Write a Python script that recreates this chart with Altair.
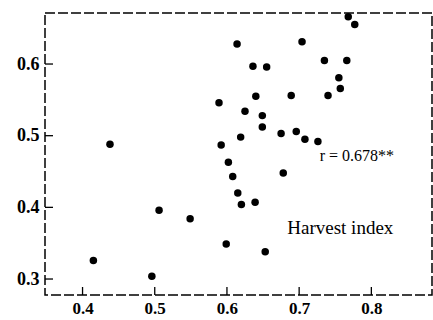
import altair as alt
import pandas as pd

# Data
x_vals = [0.415, 0.438, 0.496, 0.506, 0.549, 0.589, 0.592, 0.602, 0.608, 0.615,
          0.620, 0.639, 0.599, 0.653, 0.614, 0.636, 0.655, 0.640, 0.625, 0.649,
          0.649, 0.619, 0.675, 0.696, 0.708, 0.726, 0.678, 0.704, 0.689, 0.735,
          0.766, 0.755, 0.757, 0.740, 0.768, 0.777]
y_vals = [0.326, 0.488, 0.304, 0.396, 0.384, 0.546, 0.487, 0.463, 0.443, 0.420,
          0.404, 0.407, 0.349, 0.338, 0.628, 0.597, 0.596, 0.555, 0.534, 0.528,
          0.512, 0.498, 0.503, 0.506, 0.495, 0.492, 0.448, 0.631, 0.556, 0.605,
          0.605, 0.581, 0.566, 0.556, 0.666, 0.655]
x_ticks = [0.4, 0.5, 0.6, 0.7, 0.8]
y_ticks = [0.3, 0.4, 0.5, 0.6]
r_label = ["r = 0.678**"]
r_pos = [(0.780, 0.465)]
name_label = ["Harvest index"]
name_pos = [(0.757, 0.363)]

df = pd.DataFrame({"x": x_vals, "y": y_vals})
xt = pd.DataFrame({"x": x_ticks})
yt = pd.DataFrame({"y": y_ticks})
rdf = pd.DataFrame({"x": [p[0] for p in r_pos], "y": [p[1] for p in r_pos], "t": r_label})
ndf = pd.DataFrame({"x": [p[0] for p in name_pos], "y": [p[1] for p in name_pos], "t": name_label})

W, H = 387, 282
FONT = "Liberation Serif"
xs = alt.Scale(domain=[0.348, 0.884], nice=False, zero=False)
ys = alt.Scale(domain=[0.2777, 0.6712], nice=False, zero=False)

common_axis = dict(title=None, domain=False, ticks=False, grid=False,
                   labelFont=FONT, labelFontWeight="bold",
                   labelColor="black", format=".1f")
x_axis = alt.Axis(values=x_ticks, labelPadding=5, labelFontSize=17, **common_axis)
y_axis = alt.Axis(values=y_ticks, labelPadding=6, labelFontSize=18, **common_axis)

X = alt.X("x:Q", scale=xs, axis=x_axis)
Y = alt.Y("y:Q", scale=ys, axis=y_axis)

pts = alt.Chart(df).mark_circle(size=56, color="black", opacity=1).encode(x=X, y=Y)

xtick = alt.Chart(xt).mark_rule(color="black", strokeWidth=1.3).encode(
    x=X, y=alt.value(H), y2=alt.value(H - 8),
)
ytick = alt.Chart(yt).mark_rule(color="black", strokeWidth=1.3).encode(
    y=Y, x=alt.value(0), x2=alt.value(8),
)

rtxt = alt.Chart(rdf).mark_text(font=FONT, fontSize=16, color="black",
                                align="center", baseline="alphabetic").encode(
    x=X, y=Y, text="t:N")
ntxt = alt.Chart(ndf).mark_text(font=FONT, fontSize=19, color="black",
                                align="center", baseline="alphabetic").encode(
    x=X, y=Y, text="t:N")

chart = alt.layer(pts, xtick, ytick, rtxt, ntxt).properties(
    width=W, height=H,
    padding={"left": 45, "top": 13, "right": 1, "bottom": 25},
    autosize=alt.AutoSizeParams(type="none"),
    background="white",
).configure_view(
    stroke="black", strokeWidth=1.5, strokeDash=[10, 3]
).configure_axis(
    labelFont=FONT, labelFontWeight="bold", labelColor="black"
)

chart.save("out.html", embed_options={"renderer": "svg", "actions": False})
